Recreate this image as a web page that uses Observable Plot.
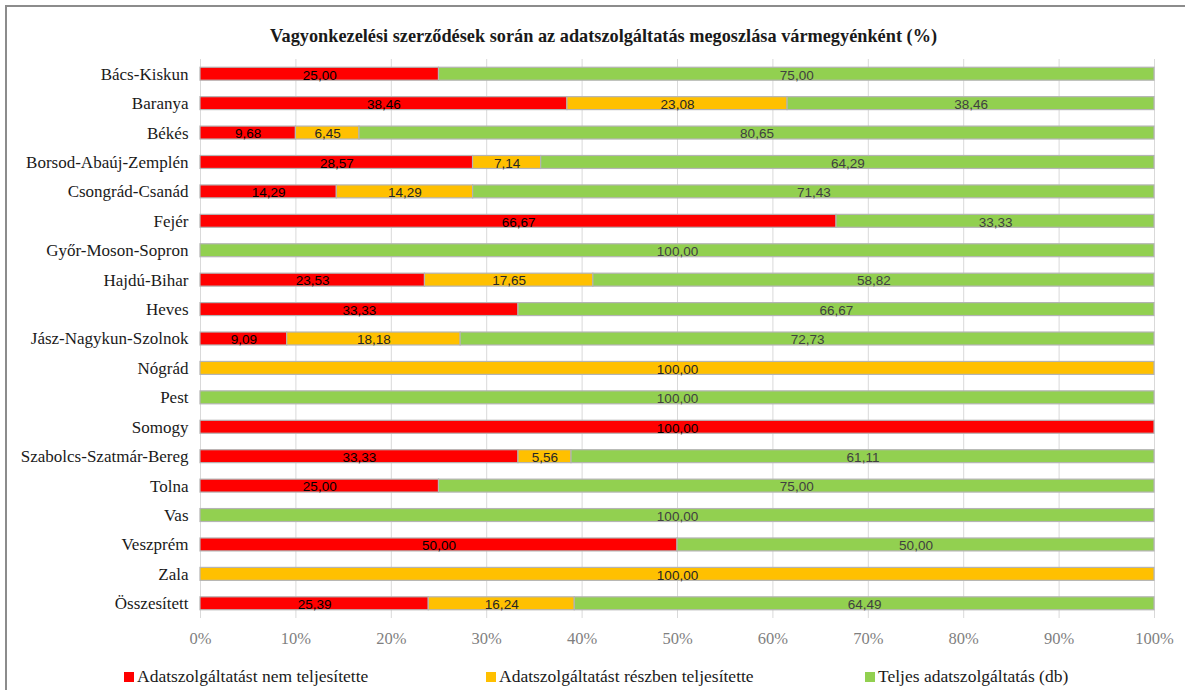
<!DOCTYPE html>
<html>
<head>
<meta charset="utf-8">
<script src="https://cdn.jsdelivr.net/npm/d3@7"></script>
<script src="https://cdn.jsdelivr.net/npm/@observablehq/plot@0.6"></script>
<style>
  html, body { margin: 0; padding: 0; background: #fff; }
  #wrap { position: relative; width: 1185px; height: 690px; overflow: hidden; }
  #frame { position: absolute; left: 5px; top: 5px; width: 1190px; height: 700px; border-left: 2px solid #8c8c8c; border-top: 2px solid #8c8c8c; box-sizing: border-box; }
  #title { position: absolute; left: 0; top: 26px; width: 1207px; text-align: center; font-family: "Liberation Serif", serif; font-weight: bold; font-size: 18.3px; color: #1a1a1a; }
  #chart { position: absolute; left: 0; top: 0; }
  #legend { position: absolute; top: 666px; left: 0; width: 1185px; font-family: "Liberation Serif", serif; font-size: 17.5px; color: #1a1a1a; }
  .li { position: absolute; white-space: nowrap; }
  .sw { display: inline-block; width: 10px; height: 10px; margin-right: 3px; vertical-align: 0px; }
</style>
</head>
<body>
<div id="wrap">
  <div id="frame"></div>
  <div id="title">Vagyonkezelési szerződések során az adatszolgáltatás megoszlása vármegyénként (%)</div>
  <div id="chart"></div>
  <div id="legend"></div>
</div>
<script>
const counties = ["Bács-Kiskun","Baranya","Békés","Borsod-Abaúj-Zemplén","Csongrád-Csanád","Fejér","Győr-Moson-Sopron","Hajdú-Bihar","Heves","Jász-Nagykun-Szolnok","Nógrád","Pest","Somogy","Szabolcs-Szatmár-Bereg","Tolna","Vas","Veszprém","Zala","Összesített"];
const seriesNames = ["Adatszolgáltatást nem teljesítette","Adatszolgáltatást részben teljesítette","Teljes adatszolgáltatás (db)"];
const seriesColors = ["#ff0000","#ffc000","#92d050"];
const labelColors = ["#000000","#262626","#404040"];
const notFulfilled = [25.00,38.46,9.68,28.57,14.29,66.67,0,23.53,33.33,9.09,0,0,100,33.33,25.00,0,50.00,0,25.39];
const partlyFulfilled = [0,23.08,6.45,7.14,14.29,0,0,17.65,0,18.18,100,0,0,5.56,0,0,0,100,16.24];
const fullyFulfilled = [75.00,38.46,80.65,64.29,71.43,33.33,100,58.82,66.67,72.73,0,100,0,61.11,75.00,100,50.00,0,64.49];
const xTicks = [0,0.1,0.2,0.3,0.4,0.5,0.6,0.7,0.8,0.9,1];

const seriesValues = [notFulfilled, partlyFulfilled, fullyFulfilled];
const data = [];
counties.forEach((c, i) => {
  seriesValues.forEach((vals, s) => {
    data.push({county: c, series: seriesNames[s], si: s, value: vals[i]});
  });
});

const fmt = v => v.toFixed(2).replace(".", ",");
const serif = "'Liberation Serif', serif";

const chart = Plot.plot({
  width: 1185,
  height: 650,
  marginLeft: 200,
  marginRight: 31,
  marginTop: 59,
  marginBottom: 32,
  style: {fontFamily: serif, background: "transparent", overflow: "visible"},
  x: {domain: [0, 1], ticks: xTicks, tickFormat: d => Math.round(d * 100) + "%", tickSize: 0, tickPadding: 14, label: null},
  y: {domain: counties, paddingInner: 0.56, paddingOuter: 0.28, round: false, label: null, tickSize: 0, tickPadding: 12},
  color: {domain: seriesNames, range: seriesColors},
  marks: [
    Plot.ruleX(xTicks, {stroke: "#d9d9d9", strokeWidth: 1}),
    Plot.barX(data, Plot.stackX({
      offset: "normalize", order: null,
      x: "value", y: "county", fill: "series",
      stroke: "#b4b4b4", strokeWidth: 1.2,
      strokeOpacity: d => d.value > 0 ? 1 : 0
    })),
    Plot.text(data, Plot.stackX({
      offset: "normalize", order: null,
      x: "value", y: "county",
      text: d => d.value > 0 ? fmt(d.value) : null,
      fill: d => labelColors[d.si],
      fontFamily: "'Liberation Sans', Arial, sans-serif",
      fontSize: 13.5,
      dy: 1
    })),
    Plot.axisX({ticks: xTicks, tickFormat: d => Math.round(d * 100) + "%", tickSize: 0, tickPadding: 14, fontSize: 16.5, fontFamily: serif, fill: "#7f7f7f", label: null}),
    Plot.axisY({tickSize: 0, tickPadding: 12, fontSize: 17, fontFamily: serif, fill: "#1a1a1a", label: null})
  ]
});
document.getElementById("chart").appendChild(chart);

const legendPos = [124, 486, 865];
const legend = document.getElementById("legend");
seriesNames.forEach((n, i) => {
  const item = document.createElement("div");
  item.className = "li";
  item.style.left = legendPos[i] + "px";
  const sw = document.createElement("span");
  sw.className = "sw";
  sw.style.background = seriesColors[i];
  item.appendChild(sw);
  item.appendChild(document.createTextNode(n));
  legend.appendChild(item);
});
</script>
</body>
</html>
